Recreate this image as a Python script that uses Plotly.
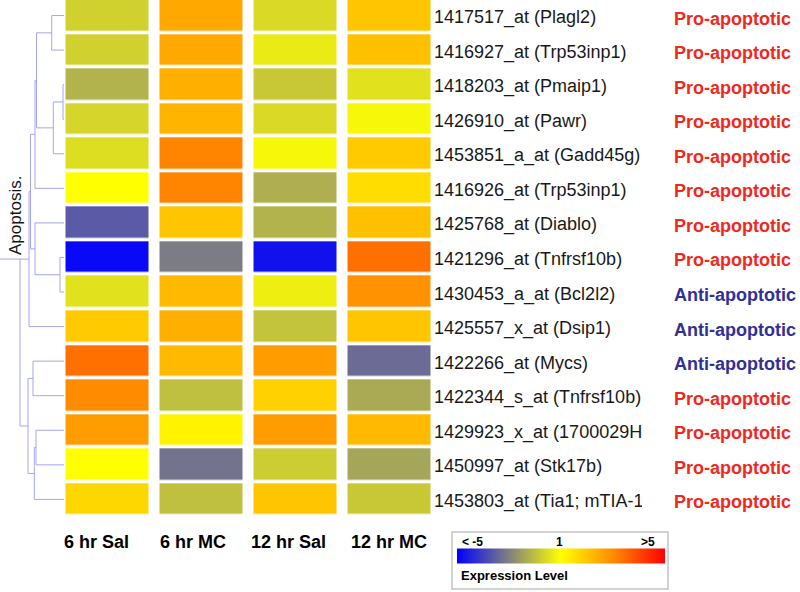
import numpy as np
import plotly.graph_objects as go

# ---------------- data ----------------
conditions = ["6 hr Sal", "6 hr MC", "12 hr Sal", "12 hr MC"]
probes = [
    "1417517_at (Plagl2)",
    "1416927_at (Trp53inp1)",
    "1418203_at (Pmaip1)",
    "1426910_at (Pawr)",
    "1453851_a_at (Gadd45g)",
    "1416926_at (Trp53inp1)",
    "1425768_at (Diablo)",
    "1421296_at (Tnfrsf10b)",
    "1430453_a_at (Bcl2l2)",
    "1425557_x_at (Dsip1)",
    "1422266_at (Mycs)",
    "1422344_s_at (Tnfrsf10b)",
    "1429923_x_at (1700029H06Rik)",
    "1450997_at (Stk17b)",
    "1453803_at (Tia1; mTIA-1)",
]
roles = [
    "Pro-apoptotic", "Pro-apoptotic", "Pro-apoptotic", "Pro-apoptotic",
    "Pro-apoptotic", "Pro-apoptotic", "Pro-apoptotic", "Pro-apoptotic",
    "Anti-apoptotic", "Anti-apoptotic", "Anti-apoptotic",
    "Pro-apoptotic", "Pro-apoptotic", "Pro-apoptotic", "Pro-apoptotic",
]
# expression level per condition (legend scale: < -5 ... 1 ... > 5)
expr_6h_sal = [-0.1, -0.1, -0.8, 0.0, 0.2, 1.0, -2.9, -4.8, 0.3, 1.9, 3.4, 3.0, 2.7, 1.0, 1.7]
expr_6h_mc = [2.5, 2.5, 2.4, 2.3, 3.1, 3.1, 2.0, -2.1, 2.2, 2.4, 2.2, -0.5, 1.2, -2.3, -0.5]
expr_12h_sal = [0.1, 0.5, -0.3, 0.1, 0.8, -0.9, -0.8, -4.6, 0.6, -0.4, 2.7, 1.8, 2.7, -0.2, 2.0]
expr_12h_mc = [2.0, 2.1, 0.3, 0.8, 1.9, 1.6, 2.1, 3.4, 2.9, 2.0, -2.5, -1.0, 2.2, -1.1, -0.3]

legend_ticks = ["< -5", "1", ">5"]
legend_title = "Expression Level"
cluster_label = "Apoptosis."

# hierarchical clustering of rows: (left, right, distance); leaves 0-14, clusters from 15
linkage = [
    (0, 1, 12.3),
    (2, 3, 1.0),
    (16, 4, 10.7),
    (15, 17, 27.5),
    (18, 5, 29.0),
    (7, 8, 4.0),
    (6, 20, 29.0),
    (19, 21, 33.5),
    (22, 9, 35.0),
    (10, 11, 31.0),
    (12, 13, 28.0),
    (25, 14, 29.7),
    (24, 26, 36.0),
    (23, 27, 44.0),
]
dendro_max = 64.0

# ---------------- processing ----------------
expr = np.array([expr_6h_sal, expr_6h_mc, expr_12h_sal, expr_12h_mc]).T  # rows x cols


def to_colorpos(v):
    v = np.clip(v, -5, 5)
    return np.where(v <= 1, (v + 5) / 12.0, 0.5 + (v - 1) / 8.0)


zpos = to_colorpos(expr)
n_rows = len(probes)

colorscale = [
    [0.0, "rgb(0,0,255)"],
    [0.25, "rgb(128,128,128)"],
    [0.5, "rgb(255,255,0)"],
    [0.75, "rgb(255,140,0)"],
    [1.0, "rgb(255,0,0)"],
]

# dendrogram segments
node_y = {i: float(i) for i in range(n_rows)}
node_h = {i: 0.0 for i in range(n_rows)}
dx, dy = [], []
for k, (a, b, h) in enumerate(linkage):
    cid = n_rows + k
    for c in (a, b):
        dx += [node_h[c], h, None]
        dy += [node_y[c], node_y[c], None]
    dx += [h, h, None]
    dy += [node_y[a], node_y[b], None]
    node_y[cid] = (node_y[a] + node_y[b]) / 2.0
    node_h[cid] = h
# stem of root drawn at the level of its upper branch
root_a = linkage[-1][0]
dx += [linkage[-1][2], dendro_max, None]
dy += [node_y[root_a], node_y[root_a], None]

# ---------------- figure ----------------
W, H = 800, 592
FONT = "Liberation Sans, Arial, sans-serif"

fig = go.Figure()
fig.add_trace(go.Heatmap(
    z=zpos, x=list(range(len(conditions))), y=list(range(n_rows)),
    zmin=0, zmax=1, colorscale=colorscale, xgap=11, ygap=3.5,
    hoverinfo="skip",
    colorbar=dict(
        orientation="h", x=560.85 / W, xanchor="center", y=1 - 555.8 / H, yanchor="middle",
        len=208, lenmode="pixels", thickness=15, thicknessmode="pixels",
        outlinewidth=0, showticklabels=False, ticks="", xpad=0, ypad=0,
    ),
))
fig.add_trace(go.Scatter(
    x=dx, y=dy, mode="lines", xaxis="x2", yaxis="y",
    line=dict(color="rgb(165,165,240)", width=1), hoverinfo="skip", showlegend=False,
))

annotations = []
for i, (p, r) in enumerate(zip(probes, roles)):
    annotations.append(dict(
        x=432 / W, xref="paper", y=i, yref="y", text=p, showarrow=False,
        xanchor="left", yanchor="middle", align="left", width=208,
        font=dict(family=FONT, size=18, color="rgb(25,25,25)"), yshift=-2,
    ))
    col = "rgb(240,40,30)" if r.startswith("Pro") else "rgb(48,48,150)"
    annotations.append(dict(
        x=672 / W, xref="paper", y=i, yref="y", text="<b>%s</b>" % r, showarrow=False,
        xanchor="left", yanchor="middle", font=dict(family=FONT, size=18, color=col), yshift=-3,
    ))

col_label_centers = [96.4, 192.9, 288.0, 389.0]
for c, cx in zip(conditions, col_label_centers):
    annotations.append(dict(
        x=cx / W, xref="paper", y=1 - 541.5 / H, yref="paper", text="<b>%s</b>" % c,
        showarrow=False, xanchor="center", yanchor="middle",
        font=dict(family=FONT, size=18, color="black"),
    ))

tick_pos = [(472, "center"), (559, "center"), (648, "center")]
for t, (tx, anc) in zip(legend_ticks, tick_pos):
    annotations.append(dict(
        x=tx / W, xref="paper", y=1 - 542 / H, yref="paper", text="<b>%s</b>" % t,
        showarrow=False, xanchor=anc, yanchor="middle",
        font=dict(family=FONT, size=12, color="black"),
    ))
annotations.append(dict(
    x=459 / W, xref="paper", y=1 - 575 / H, yref="paper", text="<b>%s</b>" % legend_title,
    showarrow=False, xanchor="left", yanchor="middle",
    font=dict(family=FONT, size=13, color="black"),
))
annotations.append(dict(
    x=15 / W, xref="paper", y=1 - 216 / H, yref="paper", text=cluster_label,
    showarrow=False, xanchor="center", yanchor="middle", textangle=-90,
    font=dict(family=FONT, size=17, color="rgb(20,20,20)"),
))

shapes = [dict(
    type="rect", xref="paper", yref="paper",
    x0=452 / W, x1=668 / W, y0=1 - 589 / H, y1=1 - 532 / H,
    line=dict(color="rgb(195,195,195)", width=1.5), fillcolor="rgba(0,0,0,0)", layer="below",
)]

plot_h = 518.4
fig.update_layout(
    width=W, height=H, margin=dict(l=0, r=0, t=0, b=0, autoexpand=False),
    paper_bgcolor="white", plot_bgcolor="white",
    xaxis=dict(domain=[60.5 / W, 436.5 / W], range=[-0.5, 3.5], visible=False, fixedrange=True),
    yaxis=dict(domain=[1 - plot_h / H, 1], range=[14.55, -0.45], visible=False, fixedrange=True),
    xaxis2=dict(domain=[0, 64 / W], range=[dendro_max, 0], visible=False, anchor="y", fixedrange=True),
    annotations=annotations, shapes=shapes, showlegend=False,
)

fig.write_html(
    "out.html",
    config={"displayModeBar": False},
    post_script="document.body.style.margin='0px';document.body.style.overflow='hidden';",
)
